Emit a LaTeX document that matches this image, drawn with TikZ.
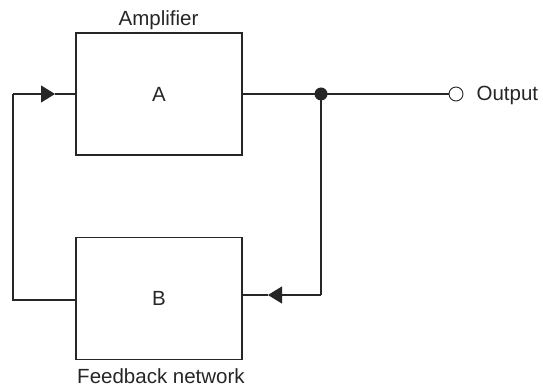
\documentclass[tikz,border=0pt]{standalone}
\usepackage{fontspec}
\setmainfont{Liberation Sans}
\usetikzlibrary{arrows.meta}
\begin{document}
\begin{tikzpicture}[x=1pt,y=-1pt,line width=1.1pt,draw=black!85,
  blk/.style={draw, minimum width=166pt, minimum height=122pt, inner sep=0pt},
  lbl/.style={font=\fontsize{20.5}{24}\selectfont, text=black!85, inner sep=0pt},
  tip/.style={-{Triangle[length=14pt,width=17pt]}},
  dot/.style={circle, fill=black!85, draw=none, minimum size=13pt, inner sep=0pt},
  port/.style={circle, draw, fill=white, minimum size=14pt, inner sep=0pt, line width=0.9pt}]
\useasboundingbox (0,0) rectangle (543,387);
% blocks
\node[blk,lbl] (A) at (159,94) {A};
\node[blk,lbl] (B) at (159,298.5) {B};
\node[lbl, anchor=base] (ampl) at (158.5,26) {Amplifier};
\node[lbl, anchor=base] (fbl) at (161,383) {Feedback network};
% junction and output
\node[dot] (j) at (321,94) {};
\node[port] (out) at (456,94) {};
\node[lbl, anchor=base west] (outl) at (476,101) {Output};
\draw (A.east) -- (j.center) -- (out.west);
% feedback path right
\coordinate (rb) at (321,295);
\coordinate (tb) at (268,295);
\draw (j.center) -- (rb);
\draw[tip] (rb) -- (tb);
\draw (tb) -- ([yshift=3.5pt]B.east);
% feedback path left
\coordinate (lb) at (13,300);
\coordinate (lt) at (13,94);
\coordinate (ta) at (55,94);
\draw ([yshift=-1.5pt]B.west) -- (lb) -- (lt);
\draw[tip] (lt) -- (ta);
\draw (ta) -- (A.west);
\end{tikzpicture}
\end{document}
